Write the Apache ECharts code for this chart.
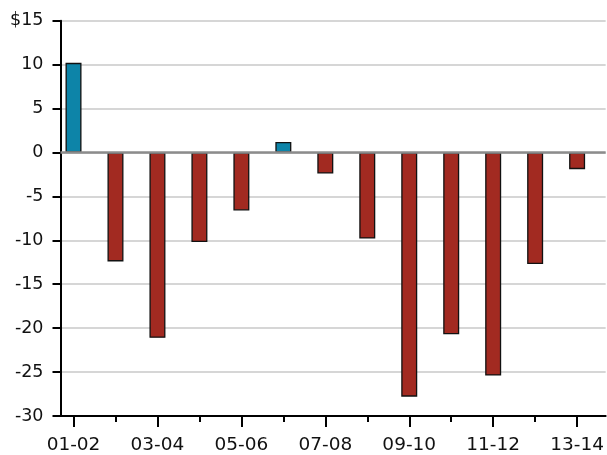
<!DOCTYPE html>
<html>
<head>
<meta charset="utf-8">
<script src="https://cdn.jsdelivr.net/npm/echarts@6/dist/echarts.min.js"></script>
<style>
html,body{margin:0;padding:0;background:#fff;}
#c{width:607px;height:455px;}
</style>
</head>
<body>
<div id="c"></div>
<script>
var categories = ['01-02','02-03','03-04','04-05','05-06','06-07','07-08','08-09','09-10','10-11','11-12','12-13','13-14'];
var values = [10.2, -12.4, -21.1, -10.2, -6.6, 1.2, -2.4, -9.8, -27.8, -20.7, -25.4, -12.7, -1.9];
var labeledIdx = [0, 2, 4, 6, 8, 10, 12];
var minorIdx = [1, 3, 5, 7, 9, 11];
var yMin = -30, yMax = 15, yStep = 5;

var chart = echarts.init(document.getElementById('c'), null, {renderer: 'canvas'});
var xMin = -0.31, xMax = 12.68;

chart.setOption({
  animation: false,
  grid: {left: 60.5, right: 0, top: 20.7, bottom: 38.7, containLabel: false},
  xAxis: [{
    type: 'value', min: xMin, max: xMax, position: 'bottom',
    splitLine: {show: false},
    axisLine: {show: true, onZero: false, lineStyle: {color: '#000', width: 2}},
    axisTick: {show: true, customValues: labeledIdx, length: 11, lineStyle: {color: '#000', width: 2}},
    axisLabel: {show: true, customValues: labeledIdx, margin: 20, fontFamily: 'DejaVu Sans', fontSize: 18.5, color: '#111',
      formatter: function (v) { return categories[Math.round(v)] || ''; }}
  }, {
    type: 'value', min: xMin, max: xMax, position: 'bottom',
    splitLine: {show: false},
    axisLine: {show: false, onZero: false},
    axisTick: {show: true, customValues: minorIdx, length: 6, lineStyle: {color: '#000', width: 2}},
    axisLabel: {show: false}
  }],
  yAxis: {
    type: 'value', min: yMin, max: yMax, interval: yStep,
    axisLine: {show: true, onZero: false, lineStyle: {color: '#000', width: 2}},
    axisTick: {show: true, length: 8, lineStyle: {color: '#000', width: 2}},
    splitLine: {show: true, lineStyle: {color: '#d6d6d6', width: 2}},
    axisLabel: {margin: 17, fontFamily: 'DejaVu Sans', fontSize: 17.5, color: '#111',
      formatter: function (v) { return v === yMax ? '$' + v : String(v); }}
  },
  series: [{
    type: 'bar',
    xAxisIndex: 0,
    barWidth: 16,
    clip: false,
    data: values.map(function (v, i) {
      return {value: [i, v], itemStyle: {color: v >= 0 ? '#0d84a8' : '#a22a21'}};
    }),
    itemStyle: {borderColor: '#111', borderWidth: 1.3},
    markLine: {
      silent: true, symbol: 'none', label: {show: false},
      lineStyle: {color: '#8c8c8c', width: 2.5, type: 'solid'},
      data: [{yAxis: 0}]
    }
  }]
});
</script>
</body>
</html>
